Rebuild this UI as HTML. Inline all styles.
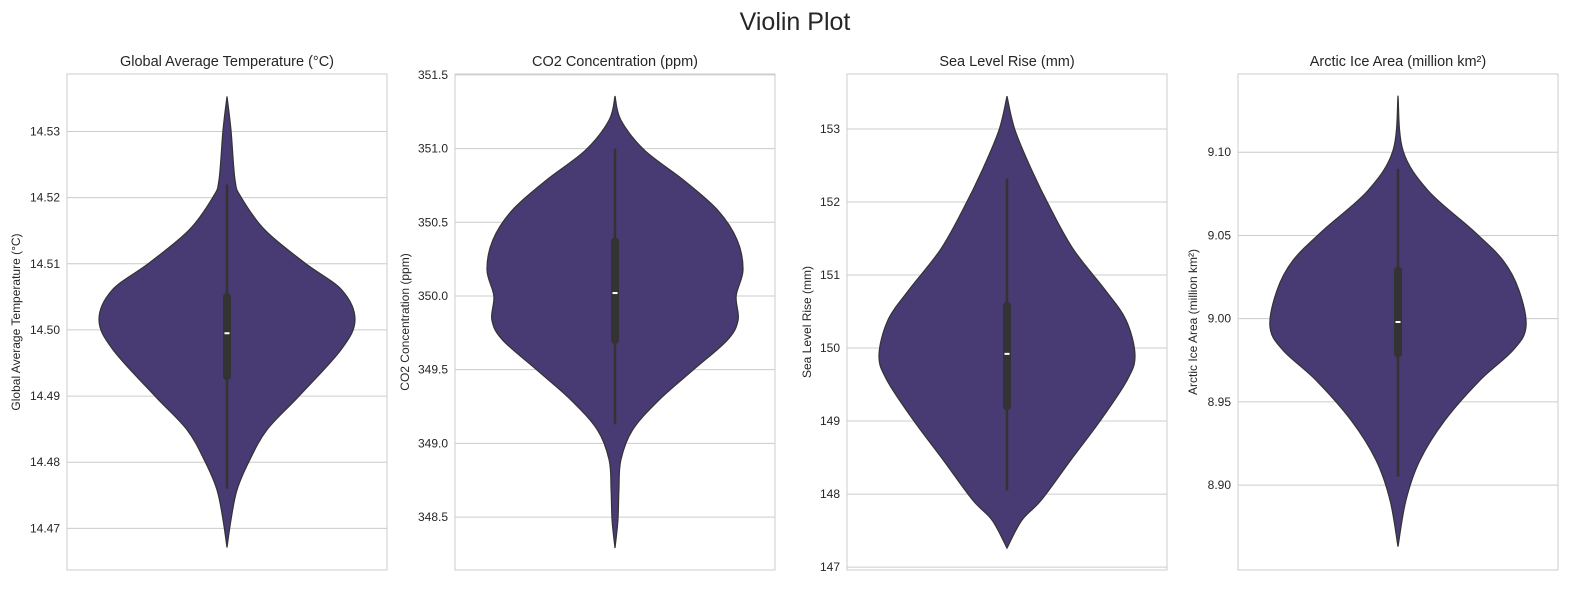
<!DOCTYPE html>
<html><head><meta charset="utf-8">
<style>
body{margin:0;background:#fff;font-family:"Liberation Sans",Arial,sans-serif;}
svg text{font-family:"Liberation Sans",Arial,sans-serif;fill:#262626;}
</style></head>
<body>
<svg id="chart" width="1590" height="592" xmlns="http://www.w3.org/2000/svg">
<text x="795" y="30" text-anchor="middle" font-size="25">Violin Plot</text>
</svg>
<script>
const titles = ["Global Average Temperature (°C)","CO2 Concentration (ppm)","Sea Level Rise (mm)","Arctic Ice Area (million km²)"];
const ylabels = ["Global Average Temperature (°C)","CO2 Concentration (ppm)","Sea Level Rise (mm)","Arctic Ice Area (million km²)"];
const yDomains = [[14.4637,14.5387],[348.141,351.506],[146.96,153.753],[8.849,9.147]];
const ticks = [[14.47,14.48,14.49,14.50,14.51,14.52,14.53],[348.5,349.0,349.5,350.0,350.5,351.0,351.5],[147,148,149,150,151,152,153],[8.90,8.95,9.00,9.05,9.10]];
const tickLabels = [["14.47","14.48","14.49","14.50","14.51","14.52","14.53"],["348.5","349.0","349.5","350.0","350.5","351.0","351.5"],["147","148","149","150","151","152","153"],["8.90","8.95","9.00","9.05","9.10"]];
const profileValues = [
 [14.5353,14.5302,14.5227,14.5201,14.5151,14.5101,14.5060,14.5015,14.4970,14.4900,14.4849,14.4801,14.4758,14.4713,14.4671],
 [351.357,351.194,350.99,350.787,350.583,350.38,350.176,350.0,349.837,349.701,349.498,349.294,349.091,348.887,348.684,348.48,348.29],
 [153.45,152.99,152.44,151.89,151.34,150.79,150.38,149.90,149.56,149.01,148.47,147.92,147.64,147.26],
 [9.134,9.101,9.077,9.053,9.035,9.017,8.995,8.981,8.963,8.939,8.915,8.891,8.863]];
const profileDensity = [
 [0,4,8,14,38,78,115,128,114,72,40,22,10,4,0],
 [0,6,30,70,105,125,131,124,126,115,80,45,18,6,4,3,0],
 [0,8,25,45,68,100,121,130,122,95,65,35,15,0],
 [0,5,30,75,105,121,128,115,82,47,22,8,0]];
const medians = [14.4995,350.02,149.92,8.998];
const q1s = [14.493,349.7,149.2,8.979];
const q3s = [14.505,350.37,150.58,9.029];
const whiskLo = [14.476,349.13,148.05,8.905];
const whiskHi = [14.522,351.0,152.32,9.09];

const NS="http://www.w3.org/2000/svg";
const svg=document.getElementById('chart');
const panelX=[67,455,847,1238], PW=320, PT=74, PB=570;
const ylabX=[16,405,807,1193];
function mk(tag,attrs,parent){const e=document.createElementNS(NS,tag);for(const k in attrs)e.setAttribute(k,attrs[k]);(parent||svg).appendChild(e);return e;}
for(let p=0;p<4;p++){
  const g=mk('g',{});
  
  
  const x0=panelX[p], cx=x0+PW/2;
  const [lo,hi]=yDomains[p];
  const Y=v=>PB-(v-lo)/(hi-lo)*(PB-PT);
  const maxD=Math.max(...profileDensity[p]);
  const W=v=>v/maxD*128;
  ticks[p].forEach((t,i)=>{
    const y=Y(t);
    const l=mk('line',{x1:x0,x2:x0+PW,y1:y,y2:y,stroke:'#cccccc','stroke-width':1},g);
    
    
    const tx=mk('text',{x:x0-7,y:y+4,'text-anchor':'end','font-size':12},g);
    tx.textContent=tickLabels[p][i];
    
    
  });
  const fr=mk('rect',{x:x0,y:PT,width:PW,height:PB-PT,fill:'none',stroke:'#cccccc','stroke-width':1},g);
  
  
  const pts=profileValues[p].map((v,i)=>[W(profileDensity[p][i]),Y(v)]);
  function spline(arr,sign){
    let d='';
    for(let i=0;i<arr.length-1;i++){
      const p0=arr[Math.max(i-1,0)],p1=arr[i],p2=arr[i+1],p3=arr[Math.min(i+2,arr.length-1)];
      const c1=[p1[0]+(p2[0]-p0[0])/6,p1[1]+(p2[1]-p0[1])/6];
      const c2=[p2[0]-(p3[0]-p1[0])/6,p2[1]-(p3[1]-p1[1])/6];
      d+=` C${cx+sign*c1[0]},${c1[1]} ${cx+sign*c2[0]},${c2[1]} ${cx+sign*p2[0]},${p2[1]}`;
    }
    return d;
  }
  const rev=pts.slice().reverse();
  let d=`M${cx+pts[0][0]},${pts[0][1]}`+spline(pts,1)+` L${cx-rev[0][0]},${rev[0][1]}`+spline(rev,-1)+'Z';
  const vio=mk('path',{d:d,fill:'#483a73',stroke:'#333333','stroke-width':1.2},g);
  
  
  const wl=mk('line',{x1:cx,x2:cx,y1:Y(whiskLo[p]),y2:Y(whiskHi[p]),stroke:'#333333','stroke-width':2.5},g);
  
  
  const bx=mk('line',{x1:cx,x2:cx,y1:Y(q1s[p]),y2:Y(q3s[p]),stroke:'#333333','stroke-width':8,'stroke-linecap':'round'},g);
  
  
  const md=mk('line',{x1:cx-2.5,x2:cx+2.5,y1:Y(medians[p]),y2:Y(medians[p]),stroke:'#ffffff','stroke-width':2},g);
  
  
  const tt=mk('text',{x:cx,y:66,'text-anchor':'middle','font-size':14.5},g);
  tt.textContent=titles[p];
  
  
  const yl=mk('text',{x:ylabX[p]+4,y:(PT+PB)/2,'text-anchor':'middle','font-size':12,transform:`rotate(-90 ${ylabX[p]+4} ${(PT+PB)/2})`},g);
  yl.textContent=ylabels[p];
  
  
}
</script>
</body></html>
